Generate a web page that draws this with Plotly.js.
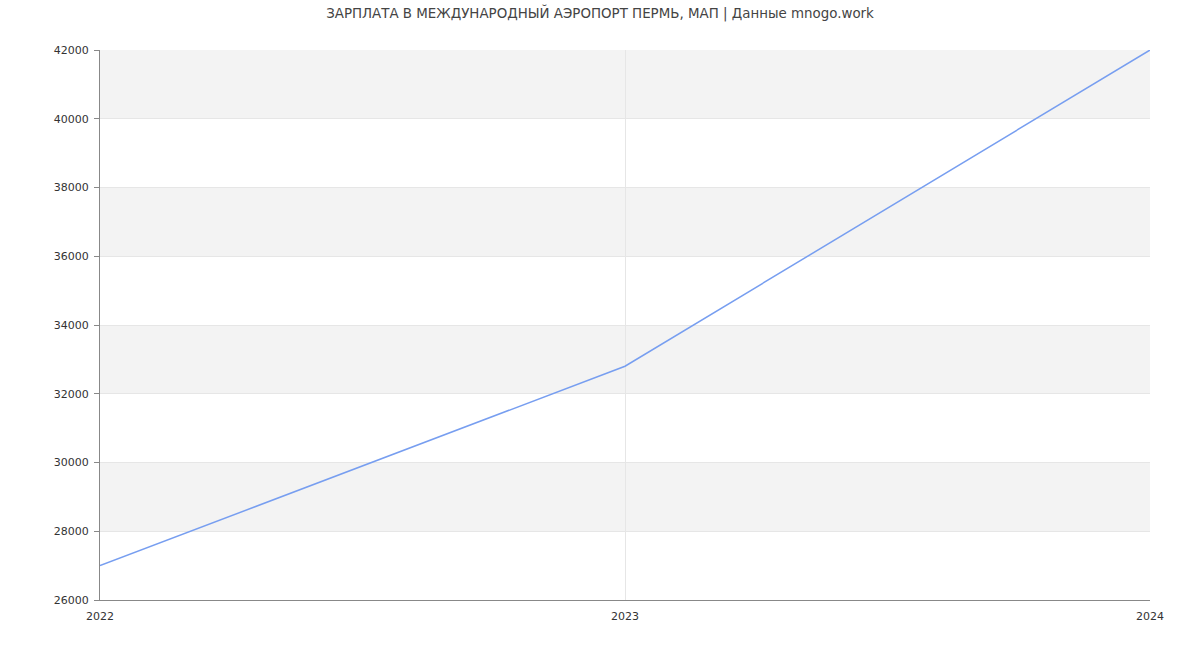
<!DOCTYPE html>
<html>
<head>
<meta charset="utf-8">
<script src="https://cdn.plot.ly/plotly-3.0.1.min.js"></script>
<style>html,body{margin:0;padding:0;background:#fff;}#chart{width:1200px;height:650px;}</style>
</head>
<body>
<div id="chart"></div>
<script>
const years = [2022, 2023, 2024];
const salary = [27000, 32800, 42000];
const yTicks = [26000, 28000, 30000, 32000, 34000, 36000, 38000, 40000, 42000];
const chartTitle = "ЗАРПЛАТА В МЕЖДУНАРОДНЫЙ АЭРОПОРТ ПЕРМЬ, МАП | Данные mnogo.work";

const shapes = [];
for (let i = 1; i < yTicks.length - 1; i += 2) {
  shapes.push({
    type: "rect", xref: "paper", yref: "y", x0: 0, x1: 1,
    y0: yTicks[i], y1: yTicks[i + 1],
    fillcolor: "#f3f3f3", line: {width: 0}, layer: "below"
  });
}

const trace = {
  x: years, y: salary, type: "scatter", mode: "lines",
  line: {color: "#779ef0", width: 1.5},
  hoverinfo: "x+y"
};

const layout = {
  width: 1200, height: 650,
  margin: {l: 100, r: 50, t: 50, b: 50},
  paper_bgcolor: "#fff", plot_bgcolor: "#fff",
  font: {family: "DejaVu Sans, sans-serif", size: 11, color: "#333"},
  title: {text: chartTitle, font: {size: 13.4, color: "#444"}, x: 0.5, xanchor: "center", yref: "container", y: 1 - 13/650, yanchor: "middle"},
  showlegend: false,
  shapes: shapes,
  xaxis: {
    range: [years[0], years[years.length - 1]],
    tickvals: years, ticktext: years.map(String),
    showgrid: true, gridcolor: "#e6e6e6", gridwidth: 1,
    showline: true, linecolor: "#888", linewidth: 1,
    ticks: "", ticklabelstandoff: 6, zeroline: false, fixedrange: true,
    tickfont: {size: 11, color: "#333"}
  },
  yaxis: {
    range: [yTicks[0], yTicks[yTicks.length - 1]],
    tickvals: yTicks, ticktext: yTicks.map(String),
    showgrid: true, gridcolor: "#e6e6e6", gridwidth: 1,
    showline: true, linecolor: "#888", linewidth: 1,
    ticks: "outside", ticklen: 5, tickcolor: "#888", ticklabelstandoff: 3,
    zeroline: false, fixedrange: true,
    tickfont: {size: 11, color: "#333"}
  }
};

Plotly.newPlot("chart", [trace], layout, {displayModeBar: false, staticPlot: true});
</script>
</body>
</html>
